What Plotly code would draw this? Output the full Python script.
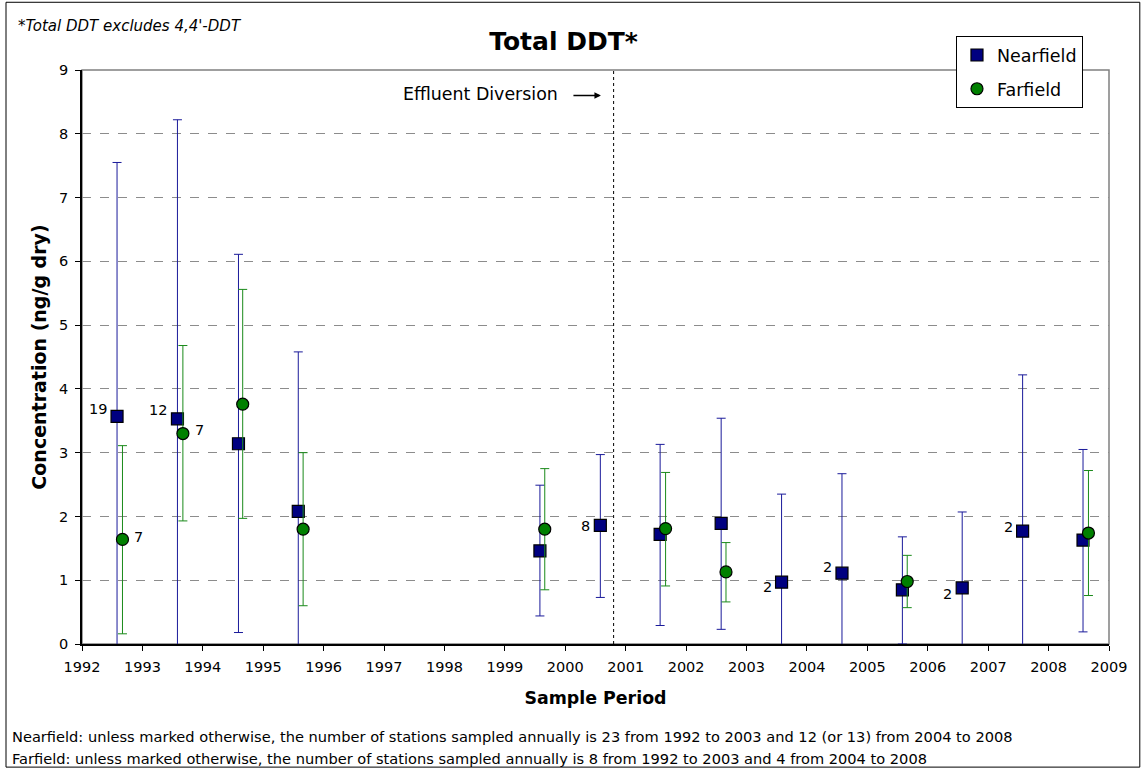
import plotly.graph_objects as go

# ---------------- data ----------------
nf_x = [1992.58, 1993.58, 1994.59, 1995.58, 1999.58, 2000.58, 2001.57, 2002.58,
        2003.58, 2004.58, 2005.58, 2006.57, 2007.57, 2008.57]
nf_y = [3.57, 3.53, 3.14, 2.08, 1.46, 1.86, 1.72, 1.89, 0.97, 1.11, 0.85, 0.88, 1.77, 1.63]
nf_hi = [7.55, 8.22, 6.11, 4.58, 2.49, 2.97, 3.13, 3.54, 2.35, 2.67, 1.68, 2.07, 4.22, 3.05]
nf_lo = [-0.5, -0.5, 0.18, -0.5, 0.44, 0.73, 0.29, 0.23, -0.5, -0.5, 0.0, -0.5, -0.5, 0.19]
nf_labels = ["19", "12", "", "", "", "8", "", "", "2", "2", "", "2", "2", ""]

ff_x = [1992.67, 1993.67, 1994.66, 1995.66, 1999.66, 2001.66, 2002.66, 2005.66, 2008.66]
ff_y = [1.64, 3.30, 3.76, 1.80, 1.80, 1.81, 1.13, 0.98, 1.74]
ff_hi = [3.11, 4.68, 5.56, 3.00, 2.75, 2.69, 1.59, 1.39, 2.72]
ff_lo = [0.16, 1.93, 1.97, 0.60, 0.85, 0.91, 0.66, 0.57, 0.76]
ff_labels = ["7", "7", "", "", "", "", "", "", ""]

year_ticks = list(range(1992, 2010))
diversion_x = 2000.80

# label vertical nudges (style)
nf_label_yshift = [7, 9, 0, 0, 0, -1, 0, 0, -5, 6, 0, -6, 4, 0]
ff_label_yshift = [2, 4, 0, 0, 0, 0, 0, 0, 0]

FONT = "DejaVu Sans, Arial, sans-serif"
NAVY = "#000080"
GREEN = "#008000"

fig = go.Figure()

fig.add_trace(go.Scatter(
    x=nf_x, y=nf_y, mode="markers", name="Nearfield", legendgroup="nf",
    marker=dict(symbol="square", size=12, color=NAVY, line=dict(color="black", width=1.2)),
    error_y=dict(type="data", symmetric=False,
                 array=[h - v for h, v in zip(nf_hi, nf_y)],
                 arrayminus=[v - l for v, l in zip(nf_y, nf_lo)],
                 color="#1a1a9a", thickness=1, width=4.5),
))
fig.add_trace(go.Scatter(
    x=ff_x, y=ff_y, mode="markers", name="Farfield", legendgroup="ff",
    marker=dict(symbol="circle", size=12, color=GREEN, line=dict(color="black", width=1.2)),
    error_y=dict(type="data", symmetric=False,
                 array=[h - v for h, v in zip(ff_hi, ff_y)],
                 arrayminus=[v - l for v, l in zip(ff_y, ff_lo)],
                 color="#1a8a1a", thickness=1, width=4.5),
))

annotations = []
for x, y, t, ys in zip(nf_x, nf_y, nf_labels, nf_label_yshift):
    if t:
        annotations.append(dict(x=x, y=y, text=t, showarrow=False, xanchor="right",
                                xshift=-8, yshift=ys, font=dict(family=FONT, size=14.5, color="black")))
for x, y, t, ys in zip(ff_x, ff_y, ff_labels, ff_label_yshift):
    if t:
        annotations.append(dict(x=x, y=y, text=t, showarrow=False, xanchor="left",
                                xshift=10, yshift=ys, font=dict(family=FONT, size=14.5, color="black")))

annotations += [
    dict(xref="paper", yref="paper", x=-0.064, y=1.0775, text="<i>*Total DDT excludes 4,4'-DDT</i>",
         showarrow=False, xanchor="left", yanchor="middle", font=dict(family=FONT, size=15, color="black")),
    dict(xref="paper", yref="paper", x=0.465, y=0.958, text="Effluent Diversion",
         showarrow=False, xanchor="right", yanchor="middle", font=dict(family=FONT, size=17.4, color="black")),
    dict(x=2000.59, y=8.6, ax=-29, ay=0, text="", showarrow=True, arrowhead=2,
         arrowsize=1, arrowwidth=1.3, arrowcolor="black"),
    dict(xref="paper", yref="paper", x=-0.070, y=-0.162,
         text="Nearfield: unless marked otherwise, the number of stations sampled annually is 23 from 1992 to 2003 and 12 (or 13) from 2004 to 2008",
         showarrow=False, xanchor="left", yanchor="middle", font=dict(family=FONT, size=14.6, color="black")),
    dict(xref="paper", yref="paper", x=-0.070, y=-0.199,
         text="Farfield: unless marked otherwise, the number of stations sampled annually is 8 from 1992 to 2003 and 4 from 2004 to 2008",
         showarrow=False, xanchor="left", yanchor="middle", font=dict(family=FONT, size=14.6, color="black")),
]

shapes = [
    dict(type="rect", xref="paper", yref="paper", x0=0, x1=1, y0=0, y1=1,
         line=dict(color="#808080", width=1.5), layer="below"),
    dict(type="line", xref="x", yref="y", x0=diversion_x, x1=diversion_x, y0=0, y1=9,
         line=dict(color="black", width=1, dash="dot")),
    dict(type="rect", xref="paper", yref="paper", x0=-0.074, x1=1.030, y0=-0.2145, y1=1.118,
         line=dict(color="black", width=1)),
]

fig.update_layout(
    width=1143, height=771,
    margin=dict(l=82, r=34, t=70, b=127),
    paper_bgcolor="white", plot_bgcolor="white",
    font=dict(family=FONT, size=14.5, color="black"),
    title=dict(text="<b>Total DDT*</b>", x=0.493, xanchor="center", y=0.947, yanchor="middle",
               font=dict(family=FONT, size=25, color="black")),
    showlegend=True,
    legend=dict(x=0.851, y=1.059, xanchor="left", yanchor="top", bgcolor="white",
                bordercolor="black", borderwidth=1, font=dict(family=FONT, size=17.5),
                tracegroupgap=8),
    annotations=annotations,
    shapes=shapes,
    xaxis=dict(range=[1992, 2009], tickvals=year_ticks, ticktext=[str(t) for t in year_ticks],
               showgrid=False, zeroline=False, showline=True, linecolor="black", linewidth=1.5,
               ticks="outside", ticklen=5, tickcolor="black", ticklabelstandoff=4,
               tickfont=dict(family=FONT, size=14.5),
               title=dict(text="<b>Sample Period</b>", font=dict(family=FONT, size=17.4), standoff=18)),
    yaxis=dict(range=[0, 9], dtick=1, showgrid=True, gridcolor="#8c8c8c", griddash="dash", gridwidth=1,
               zeroline=False, showline=True, linecolor="black", linewidth=1.5,
               ticks="outside", ticklen=5, tickcolor="black", ticklabelstandoff=4,
               tickfont=dict(family=FONT, size=14.5),
               title=dict(text="<b>Concentration (ng/g dry)</b>", font=dict(family=FONT, size=19), standoff=7)),
)

fig.write_html("out.html", config={"displayModeBar": False},
               post_script="document.body.style.margin='0px';document.body.style.overflow='hidden';")
